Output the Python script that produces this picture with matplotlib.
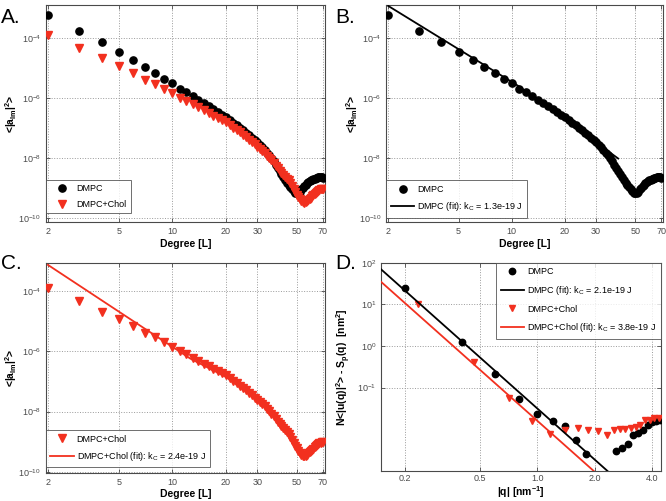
import numpy as np
import matplotlib
matplotlib.use("Agg")
import matplotlib.pyplot as plt
from matplotlib.ticker import FixedLocator, NullLocator, FixedFormatter, NullFormatter

plt.rcParams['font.family'] = ['Liberation Sans', 'DejaVu Sans']
plt.rcParams['mathtext.fontset'] = 'custom'
plt.rcParams['mathtext.rm'] = 'Liberation Sans'
plt.rcParams['mathtext.bf'] = 'Liberation Sans:bold'
plt.rcParams['mathtext.it'] = 'Liberation Sans:italic'

# ---- data ----
degree = list(range(2, 71))

# log10 <|a_lm|^2> for DMPC, L = 2..70
dmpc_log = [-3.23, -3.76, -4.14, -4.46, -4.73, -4.96, -5.16, -5.36, -5.51, -5.68,
            -5.81, -5.93, -6.06, -6.17, -6.27, -6.37, -6.46, -6.55, -6.63, -6.73,
            -6.82, -6.91, -6.99, -7.07, -7.15, -7.23, -7.31, -7.39, -7.47, -7.55,
            -7.63, -7.72, -7.81, -7.90, -8.00, -8.10, -8.21, -8.32, -8.43, -8.54,
            -8.64, -8.73, -8.81, -8.88, -8.96, -9.04, -9.10, -9.15, -9.17, -9.16,
            -9.11, -9.04, -8.98, -8.93, -8.88, -8.84, -8.80, -8.77, -8.74, -8.72,
            -8.70, -8.68, -8.66, -8.65, -8.64, -8.64, -8.64, -8.64, -8.65]

# log10 <|a_lm|^2> for DMPC+Chol, L = 2..70
chol_log = [-3.90, -4.34, -4.68, -4.93, -5.16, -5.38, -5.53, -5.69, -5.84, -5.98,
            -6.10, -6.21, -6.31, -6.41, -6.50, -6.58, -6.66, -6.73, -6.80, -6.89,
            -6.98, -7.06, -7.14, -7.22, -7.30, -7.38, -7.46, -7.54, -7.62, -7.69,
            -7.76, -7.83, -7.91, -7.99, -8.07, -8.16, -8.25, -8.34, -8.42, -8.49,
            -8.56, -8.62, -8.68, -8.74, -8.83, -8.93, -9.03, -9.13, -9.22, -9.30,
            -9.37, -9.43, -9.47, -9.49, -9.47, -9.43, -9.39, -9.35, -9.31, -9.27,
            -9.23, -9.19, -9.15, -9.12, -9.09, -9.06, -9.04, -9.02, -9.01]

dmpc_fit_L = [2.0, 5, 11, 20, 30, 40]
dmpc_fit_log = [-2.93, -4.37, -5.61, -6.72, -7.47, -8.01]
chol_fit_L = [2.0, 5, 12.6, 20, 30, 35]
chol_fit_log = [-3.13, -4.68, -6.24, -6.85, -7.60, -7.95]

# panel D
q_dmpc = [0.2, 0.4, 0.6, 0.8, 1.0, 1.2, 1.4, 1.6, 1.8,
          2.6, 2.8, 3.0, 3.2, 3.4, 3.6, 3.8, 4.0, 4.2, 4.4]
s_dmpc = [25, 1.27, 0.21, 0.054, 0.023, 0.016, 0.0116, 0.0055, 0.0025,
          0.0030, 0.0035, 0.0045, 0.0073, 0.0079, 0.0096, 0.0125, 0.0145, 0.0158, 0.017]
q_chol = [0.235, 0.466, 0.705, 0.935, 1.16, 1.39, 1.63, 1.84, 2.09, 2.31,
          2.54, 2.73, 2.9, 3.09, 3.3, 3.48, 3.69, 3.9, 4.11, 4.35]
s_chol = [10, 0.40, 0.0575, 0.0153, 0.0075, 0.0096, 0.0104, 0.0095, 0.0091, 0.0072,
          0.0095, 0.0098, 0.0098, 0.0106, 0.0112, 0.0127, 0.0164, 0.017, 0.018, 0.0185]
dmpc_fitq = [0.15, 2.4]
dmpc_fits = [70, 0.00088]
chol_fitq = [0.15, 2.05]
chol_fits = [35, 0.00085]

RED = '#f2301f'
GRAY = '#4a4a4a'

dmpc_vals = 10.0 ** np.array(dmpc_log)
chol_vals = 10.0 ** np.array(chol_log)


def style_axes(ax):
    ax.set_xscale('log')
    ax.set_yscale('log')
    for s in ax.spines.values():
        s.set_color(GRAY)
        s.set_linewidth(0.8)
    ax.tick_params(which='both', direction='in', length=3, width=0.6,
                   colors=GRAY, labelsize=6.5, top=True, right=True)
    ax.tick_params(which='minor', length=0)
    ax.grid(True, which='major', linestyle=':', color='#9a9a9a', linewidth=0.7)
    ax.set_axisbelow(True)


def degree_axes(ax, ylims):
    style_axes(ax)
    ax.set_xlim(1.95, 72)
    ax.set_ylim(*ylims)
    ax.xaxis.set_major_locator(FixedLocator([2, 5, 10, 20, 30, 50, 70]))
    ax.xaxis.set_major_formatter(FixedFormatter(['2', '5', '10', '20', '30', '50', '70']))
    ax.xaxis.set_minor_locator(NullLocator())
    ax.xaxis.set_minor_formatter(NullFormatter())
    ax.yaxis.set_major_locator(FixedLocator([1e-10, 1e-8, 1e-6, 1e-4]))
    ax.yaxis.set_minor_locator(NullLocator())
    ax.set_xlabel('Degree [L]', fontsize=7.5, fontweight='bold', labelpad=2)
    ax.set_ylabel(r'<|a$_{\mathbf{lm}}$|$^{\mathbf{2}}$>', fontsize=7.5,
                  fontweight='bold')
    ax.yaxis.set_label_coords(-0.095, 0.5)


fig = plt.figure(figsize=(6.66, 5.01), dpi=100)

leg_kw = dict(fontsize=6.5, frameon=True, fancybox=False, edgecolor=GRAY,
              borderpad=0.5, handlelength=2.6, handletextpad=0.3, labelspacing=0.7)

# A
axA = fig.add_axes([0.069, 0.557, 0.419, 0.433])
degree_axes(axA, (10 ** -10.12, 10 ** -2.9))
axA.plot(degree, dmpc_vals, 'o', color='black', markersize=5.2, label='DMPC', zorder=3)
axA.plot(degree, chol_vals, 'v', color=RED, markersize=5.6, label='DMPC+Chol', zorder=3)
lg = axA.legend(loc='lower left', bbox_to_anchor=(0.0, 0.04), borderaxespad=0, **leg_kw)
lg.get_frame().set_linewidth(0.7)

# B
axB = fig.add_axes([0.580, 0.557, 0.416, 0.433])
degree_axes(axB, (10 ** -10.12, 10 ** -2.9))
axB.plot(degree, dmpc_vals, 'o', color='black', markersize=5.2, label='DMPC', zorder=3)
axB.plot(dmpc_fit_L, 10.0 ** np.array(dmpc_fit_log), '-', color='black', linewidth=1.3,
         label=r'DMPC (fit): k$_{\mathrm{C}}$ = 1.3e-19 J', zorder=4)
lg = axB.legend(loc='lower left', bbox_to_anchor=(0.0, 0.02), borderaxespad=0, **leg_kw)
lg.get_frame().set_linewidth(0.7)

# C
axC = fig.add_axes([0.069, 0.0565, 0.419, 0.419])
degree_axes(axC, (10 ** -10.03, 10 ** -3.06))
axC.plot(degree, chol_vals, 'v', color=RED, markersize=5.6, label='DMPC+Chol', zorder=3)
axC.plot(chol_fit_L, 10.0 ** np.array(chol_fit_log), '-', color=RED, linewidth=1.3,
         label=r'DMPC+Chol (fit): k$_{\mathrm{C}}$ = 2.4e-19 J', zorder=4)
lg = axC.legend(loc='lower left', bbox_to_anchor=(0.0, 0.025), borderaxespad=0, **leg_kw)
lg.get_frame().set_linewidth(0.7)

# D
axD = fig.add_axes([0.572, 0.0605, 0.420, 0.415])
style_axes(axD)
axD.tick_params(axis='x', pad=2.5)
axD.set_xlim(0.15, 4.45)
axD.set_ylim(1e-3, 100)
axD.xaxis.set_major_locator(FixedLocator([0.2, 0.5, 1.0, 2.0, 4.0]))
axD.xaxis.set_major_formatter(FixedFormatter(['0.2', '0.5', '1.0', '2.0', '4.0']))
axD.xaxis.set_minor_locator(NullLocator())
axD.xaxis.set_minor_formatter(NullFormatter())
axD.yaxis.set_major_locator(FixedLocator([0.1, 1, 10, 100]))
axD.yaxis.set_minor_locator(NullLocator())
axD.plot(q_dmpc, s_dmpc, 'o', color='black', markersize=4.6, label='DMPC', zorder=3)
axD.plot(dmpc_fitq, dmpc_fits, '-', color='black', linewidth=1.3,
         label=r'DMPC (fit): k$_{\mathrm{C}}$ = 2.1e-19 J', zorder=4)
axD.plot(q_chol, s_chol, 'v', color=RED, markersize=4.8, label='DMPC+Chol', zorder=3)
axD.plot(chol_fitq, chol_fits, '-', color=RED, linewidth=1.3,
         label=r'DMPC+Chol (fit): k$_{\mathrm{C}}$ = 3.8e-19 J', zorder=4)
axD.set_xlabel(r'|q| [nm$^{\mathbf{-1}}$]', fontsize=7.5, fontweight='bold')
axD.xaxis.set_label_coords(0.5, -0.066)
axD.set_ylabel(r'N<|u(q)|$^{\mathbf{2}}$> - S$_{\mathbf{p}}$(q)  [nm$^{\mathbf{2}}$]',
               fontsize=7.5, fontweight='bold')
axD.yaxis.set_label_coords(-0.1, 0.5)
lg = axD.legend(loc='upper right', borderaxespad=0, **dict(leg_kw, labelspacing=0.85))
lg.get_frame().set_linewidth(0.7)

# panel letters
fig.text(0.002, 0.985, 'A.', fontsize=15, va='top', ha='left')
fig.text(0.503, 0.985, 'B.', fontsize=15, va='top', ha='left')
fig.text(0.002, 0.493, 'C.', fontsize=15, va='top', ha='left')
fig.text(0.503, 0.493, 'D.', fontsize=15, va='top', ha='left')

fig.savefig('out.png', dpi=100)
